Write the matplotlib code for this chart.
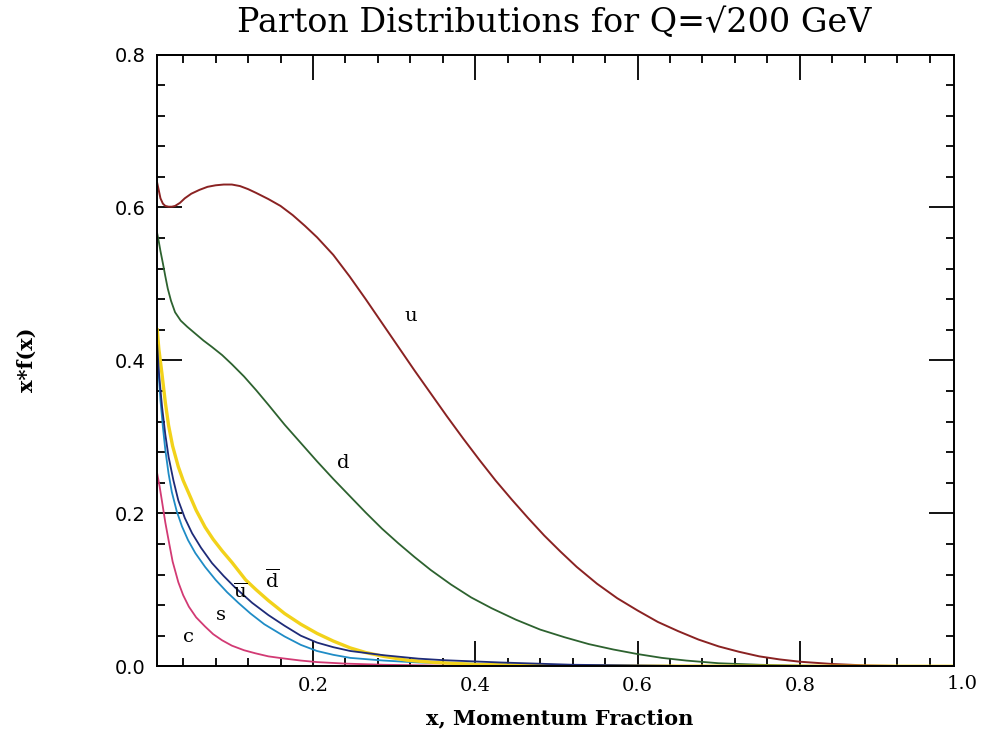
import matplotlib
matplotlib.use("Agg")
import matplotlib.pyplot as plt
from matplotlib.ticker import MultipleLocator

# ---- data ----
u_x = [0.008, 0.010, 0.012, 0.015, 0.018, 0.022, 0.026, 0.030, 0.036, 0.042, 0.050, 0.060, 0.070, 0.080,
       0.090, 0.100, 0.110, 0.120, 0.130, 0.145, 0.160, 0.175, 0.190, 0.205, 0.225, 0.245, 0.265, 0.285,
       0.305, 0.325, 0.345, 0.365, 0.385, 0.405, 0.425, 0.445, 0.465, 0.485, 0.505, 0.525, 0.55, 0.575,
       0.60, 0.625, 0.65, 0.675, 0.70, 0.725, 0.75, 0.775, 0.80, 0.84, 0.88, 0.92, 0.99]
u_y = [0.632, 0.622, 0.612, 0.605, 0.602, 0.601, 0.601, 0.602, 0.606, 0.612, 0.618, 0.623, 0.627, 0.629,
       0.630, 0.630, 0.628, 0.624, 0.619, 0.611, 0.602, 0.590, 0.576, 0.561, 0.538, 0.510, 0.480, 0.449,
       0.418, 0.387, 0.357, 0.327, 0.298, 0.270, 0.243, 0.218, 0.194, 0.171, 0.150, 0.130, 0.108, 0.089,
       0.073, 0.058, 0.046, 0.035, 0.026, 0.019, 0.013, 0.009, 0.006, 0.003, 0.0012, 0.0004, 0.0]

d_x = [0.008, 0.010, 0.012, 0.015, 0.018, 0.021, 0.025, 0.030, 0.037, 0.045, 0.055, 0.065, 0.075, 0.088,
       0.100, 0.115, 0.130, 0.145, 0.165, 0.185, 0.205, 0.225, 0.245, 0.265, 0.285, 0.305, 0.325, 0.345,
       0.37, 0.395, 0.42, 0.45, 0.48, 0.51, 0.54, 0.57, 0.60, 0.63, 0.66, 0.70, 0.75, 0.80, 0.85, 0.90, 0.99]
d_y = [0.566, 0.555, 0.543, 0.527, 0.510, 0.494, 0.478, 0.463, 0.452, 0.444, 0.435, 0.426, 0.418, 0.407,
       0.395, 0.379, 0.361, 0.342, 0.316, 0.292, 0.268, 0.245, 0.223, 0.201, 0.180, 0.161, 0.143, 0.126,
       0.107, 0.090, 0.076, 0.061, 0.048, 0.038, 0.029, 0.022, 0.016, 0.011, 0.0075, 0.004, 0.002, 0.0008,
       0.0002, 0.0, 0.0]

dbar_x = [0.008, 0.010, 0.0138, 0.018, 0.022, 0.027, 0.034, 0.040, 0.047, 0.056, 0.067, 0.077, 0.088,
          0.100, 0.117, 0.130, 0.145, 0.165, 0.185, 0.205, 0.225, 0.246, 0.265, 0.287, 0.316, 0.35, 0.40,
          0.50, 0.60, 0.99]
dbar_y = [0.440, 0.415, 0.383, 0.345, 0.315, 0.288, 0.261, 0.243, 0.226, 0.204, 0.182, 0.166, 0.151,
          0.136, 0.113, 0.100, 0.086, 0.069, 0.055, 0.043, 0.033, 0.024, 0.018, 0.013, 0.008, 0.005, 0.0025,
          0.0008, 0.0002, 0.0]

ubar_x = [0.008, 0.010, 0.014, 0.018, 0.022, 0.028, 0.034, 0.042, 0.051, 0.062, 0.0755, 0.090, 0.104,
          0.125, 0.145, 0.165, 0.185, 0.205, 0.225, 0.246, 0.287, 0.33, 0.361, 0.431, 0.52, 0.65, 0.80, 0.99]
ubar_y = [0.420, 0.385, 0.339, 0.303, 0.274, 0.243, 0.217, 0.194, 0.174, 0.155, 0.135, 0.118, 0.103,
          0.083, 0.067, 0.053, 0.040, 0.031, 0.025, 0.020, 0.0145, 0.010, 0.008, 0.005, 0.002, 0.0005,
          0.0001, 0.0]

s_x = [0.008, 0.010, 0.012, 0.015, 0.018, 0.022, 0.026, 0.032, 0.0385, 0.046, 0.055, 0.067, 0.080, 0.094,
       0.108, 0.123, 0.14, 0.165, 0.185, 0.205, 0.225, 0.246, 0.287, 0.33, 0.37, 0.45, 0.60, 0.99]
s_y = [0.420, 0.380, 0.348, 0.313, 0.283, 0.252, 0.228, 0.203, 0.183, 0.165, 0.148, 0.130, 0.113, 0.097,
       0.083, 0.069, 0.055, 0.039, 0.028, 0.020, 0.015, 0.011, 0.0075, 0.005, 0.004, 0.002, 0.0005, 0.0]

c_x = [0.008, 0.011, 0.014, 0.018, 0.022, 0.027, 0.034, 0.040, 0.047, 0.056, 0.067, 0.077, 0.088, 0.100,
       0.115, 0.129, 0.145, 0.162, 0.185, 0.205, 0.24, 0.287, 0.35, 0.45, 0.99]
c_y = [0.252, 0.235, 0.215, 0.188, 0.165, 0.137, 0.110, 0.093, 0.078, 0.064, 0.052, 0.042, 0.034, 0.027,
       0.021, 0.017, 0.013, 0.0105, 0.0075, 0.0055, 0.0035, 0.002, 0.001, 0.0003, 0.0]

curve_labels = ["u", "d", r"$\overline{\mathrm{u}}$", r"$\overline{\mathrm{d}}$", "s", "c"]
label_pos_x = [0.320, 0.237, 0.110, 0.150, 0.086, 0.046]
label_pos_y = [0.458, 0.266, 0.097, 0.113, 0.067, 0.038]

x_ticks = [0.2, 0.4, 0.6, 0.8]
x_tick_labels = ["0.2", "0.4", "0.6", "0.8"]
y_ticks = [0.0, 0.2, 0.4, 0.6, 0.8]
y_tick_labels = ["0.0", "0.2", "0.4", "0.6", "0.8"]

plt.rcParams["mathtext.fontset"] = "dejavuserif"

fig = plt.figure(figsize=(9.84, 7.33), dpi=100)
ax = fig.add_axes([0.1596, 0.091, 0.9695 - 0.1596, 0.9256 - 0.091])

ax.plot(u_x, u_y, color="#8a2222", lw=1.4)
ax.plot(d_x, d_y, color="#2d622f", lw=1.3)
ax.plot(c_x, c_y, color="#d23a74", lw=1.3)
ax.plot(s_x, s_y, color="#1f8cc6", lw=1.3)
ax.plot(dbar_x, dbar_y, color="#f2d21a", lw=2.4)
ax.plot(ubar_x, ubar_y, color="#1e2b78", lw=1.3)

ax.set_xlim(0.0078, 0.990)
ax.set_ylim(0.0, 0.8)

ax.set_xticks(x_ticks)
ax.set_xticklabels(x_tick_labels, family="DejaVu Serif", fontsize=14)
ax.set_yticks(y_ticks)
ax.set_yticklabels(y_tick_labels, family="DejaVu Sans", fontsize=14)
ax.xaxis.set_minor_locator(MultipleLocator(0.04))
ax.yaxis.set_minor_locator(MultipleLocator(0.04))
ax.tick_params(which="both", direction="in", top=True, right=True, width=1.3, color="black")
ax.tick_params(which="major", length=18, pad=8)
ax.tick_params(which="minor", length=6)
for sp in ax.spines.values():
    sp.set_linewidth(1.4)

# tick label for 1.0 sits just right of the frame
ax.text(1.0, -0.0135, "1.0", transform=ax.get_xaxis_transform(), ha="center", va="top",
        fontsize=14, family="DejaVu Serif", clip_on=False)

for lab, lx, ly in zip(curve_labels, label_pos_x, label_pos_y):
    ax.text(lx, ly, lab, fontsize=14, family="DejaVu Serif", ha="center", va="center")

fig.text(0.563, 0.968, "Parton Distributions for Q=\u221a200 GeV", ha="center", va="center",
         fontsize=24, family="DejaVu Serif")
fig.text(560 / 984, 1 - 718 / 733, "x, Momentum Fraction", ha="center", va="center",
         fontsize=15, family="DejaVu Serif", weight="bold")
fig.text(27 / 984, 1 - 360 / 733, "x*f(x)", ha="center", va="center", rotation=90,
         fontsize=15, family="DejaVu Serif", weight="bold")

fig.savefig("out.png", dpi=100)
